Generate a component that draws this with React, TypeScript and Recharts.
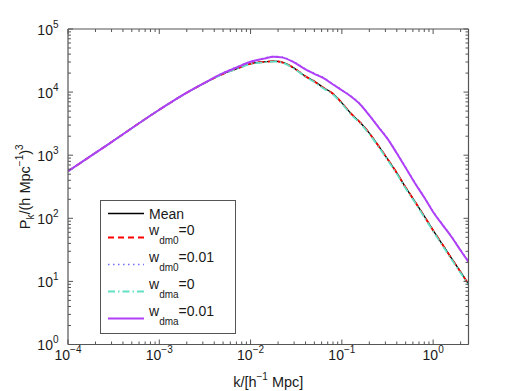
import React from 'react';
import { LineChart, Line, XAxis, YAxis, Legend } from 'recharts';

// k in h/Mpc, P in (Mpc/h)^3
const kValues = [
  0.0001, 0.0003, 0.001, 0.002, 0.003, 0.005, 0.007, 0.01, 0.014, 0.018, 0.022,
  0.03, 0.04, 0.05, 0.063, 0.08, 0.1, 0.126, 0.16, 0.2, 0.25, 0.32, 0.4, 0.5,
  0.63, 0.8, 1.0, 1.26, 1.6, 2.0, 2.44,
];
const meanP = [
  556, 1615, 5250, 9770, 13500, 19500, 23400, 28200, 30200, 30900, 29800,
  24000, 17800, 14800, 11750, 9440, 6760, 4570, 3270, 2240, 1430, 851, 525, 309,
  186, 108, 64.6, 38.9, 22.9, 14.1, 9.1,
];
const wdm0ZeroP = [
  556, 1614, 5245, 9760, 13480, 19450, 23350, 28100, 30100, 30800, 29700,
  23900, 17750, 14750, 11700, 9400, 6740, 4550, 3260, 2230, 1425, 848, 523, 308,
  185, 107.5, 64.3, 38.7, 22.8, 14.0, 9.05,
];
const wdm0OneP = [
  557, 1620, 5265, 9850, 13650, 20150, 24850, 30600, 34400, 36800, 36000,
  29950, 23250, 19800, 16850, 13400, 10850, 8640, 6410, 4340, 2865, 1810, 1088, 641,
  369, 217.5, 128, 80.7, 50.9, 31.4, 20.7,
];
const wdmaZeroP = [
  556, 1612, 5240, 9740, 13440, 19380, 23200, 27900, 29800, 30400, 29300,
  23500, 17400, 14400, 11400, 9150, 6550, 4420, 3160, 2160, 1380, 820, 506, 297,
  179, 104, 62.2, 37.4, 22.0, 13.6, 8.75,
];
const wdmaOneP = [
  556, 1615, 5250, 9800, 13550, 19950, 24550, 30200, 33900, 36300, 35500,
  29500, 22900, 19500, 16600, 13200, 10700, 8510, 6310, 4270, 2820, 1780, 1070, 631,
  363, 214, 126, 79.4, 50.1, 30.9, 20.4,
];

const xMajorTicks = [1e-4, 1e-3, 1e-2, 1e-1, 1];
const xTickLabels = ['\u22124', '\u22123', '\u22122', '\u22121', '0'];
const yMajorTicks = [1, 10, 100, 1000, 10000, 100000];
const yTickLabels = ['0', '1', '2', '3', '4', '5'];

const X_MAX = 2.44;

const withMinors = (majors: number[], max: number) => {
  const out: number[] = [];
  majors.forEach((m) => {
    for (let j = 1; j <= 9; j++) {
      const v = m * j;
      if (v <= max * 1.0001) out.push(v);
    }
  });
  return out;
};
const xTicks = withMinors(xMajorTicks, X_MAX);
const yTicks = withMinors(yMajorTicks.slice(0, -1), 1e5).concat([1e5]);

const data = kValues.map((k, i) => ({
  k,
  mean: meanP[i],
  wdm0Zero: wdm0ZeroP[i],
  wdm0One: wdm0OneP[i],
  wdmaZero: wdmaZeroP[i],
  wdmaOne: wdmaOneP[i],
}));

const series = [
  { key: 'mean', base: 'Mean', sub: '', tail: '', color: '#000000', width: 1.3, dash: undefined },
  { key: 'wdm0Zero', base: 'w', sub: 'dm0', tail: '=0', color: '#ff0000', width: 1.8, dash: '6 4' },
  { key: 'wdm0One', base: 'w', sub: 'dm0', tail: '=0.01', color: '#6f6fff', width: 1.5, dash: '1.5 3.5' },
  { key: 'wdmaZero', base: 'w', sub: 'dma', tail: '=0', color: '#62e0c4', width: 1.8, dash: '7 3 1.5 3' },
  { key: 'wdmaOne', base: 'w', sub: 'dma', tail: '=0.01', color: '#b040f8', width: 2, dash: undefined },
];

const FRAME = '#555555';
const TEXT = '#1a1a1a';
const FONT = '"Liberation Sans", Arial, Helvetica, sans-serif';
const GAP = 8;
const MAJOR_LEN = 5;
const MINOR_LEN = 3;

const majorIndex = (list: number[], v: number) =>
  list.findIndex((t) => Math.abs(t - v) / t < 1e-6);

const BottomTick = (props: any) => {
  const { x, y, payload } = props;
  const i = majorIndex(xMajorTicks, payload.value);
  const axisY = y - GAP;
  return (
    <g>
      <line x1={x} x2={x} y1={axisY} y2={axisY - (i >= 0 ? MAJOR_LEN : MINOR_LEN)} stroke={FRAME} />
      {i >= 0 && (
        <text x={x} y={axisY + 15} textAnchor="middle" fontSize={14} fill={TEXT} fontFamily={FONT}>
          10<tspan dy={-6.5} fontSize={10}>{xTickLabels[i]}</tspan>
        </text>
      )}
    </g>
  );
};

const TopTick = (props: any) => {
  const { x, y, payload } = props;
  const i = majorIndex(xMajorTicks, payload.value);
  const axisY = y + GAP;
  return <line x1={x} x2={x} y1={axisY} y2={axisY + (i >= 0 ? MAJOR_LEN : MINOR_LEN)} stroke={FRAME} />;
};

const LeftTick = (props: any) => {
  const { x, y, payload } = props;
  const i = majorIndex(yMajorTicks, payload.value);
  const axisX = x + GAP;
  return (
    <g>
      <line x1={axisX} x2={axisX + (i >= 0 ? MAJOR_LEN : MINOR_LEN)} y1={y} y2={y} stroke={FRAME} />
      {i >= 0 && (
        <text x={axisX - 9.5} y={y + 5.5} textAnchor="end" fontSize={14} fill={TEXT} fontFamily={FONT}>
          10<tspan dy={-7} fontSize={10}>{yTickLabels[i]}</tspan>
        </text>
      )}
    </g>
  );
};

const RightTick = (props: any) => {
  const { x, y, payload } = props;
  const i = majorIndex(yMajorTicks, payload.value);
  const axisX = x - GAP;
  return <line x1={axisX} x2={axisX - (i >= 0 ? MAJOR_LEN : MINOR_LEN)} y1={y} y2={y} stroke={FRAME} />;
};

const XTitle = (props: any) => {
  const vb = props.viewBox;
  return (
    <text x={vb.x + vb.width / 2} y={vb.y + 42} textAnchor="middle" fontSize={14.5} fill={TEXT} fontFamily={FONT}>
      k/[h<tspan dy={-6.5} fontSize={10}>{'\u22121'}</tspan>
      <tspan dy={6.5}> Mpc]</tspan>
    </text>
  );
};

const YTitle = (props: any) => {
  const vb = props.viewBox;
  const cx = vb.x + 1.5;
  const cy = vb.y + vb.height / 2;
  return (
    <text x={cx} y={cy} transform={`rotate(-90 ${cx} ${cy})`} textAnchor="middle" fontSize={14.5} fill={TEXT} fontFamily={FONT}>
      P<tspan dy={4} fontSize={10}>k</tspan>
      <tspan dy={-4}>/(h Mpc</tspan>
      <tspan dy={-6.5} fontSize={10}>{'\u22121'}</tspan>
      <tspan dy={6.5}>)</tspan>
      <tspan dy={-6.5} fontSize={10}>3</tspan>
    </text>
  );
};

const legendRows = [13.5, 37.5, 64.5, 91.5, 118.5];

const LegendBox = () => (
  <svg width={137} height={135} style={{ display: 'block' }}>
    <rect x={0.5} y={0.5} width={135} height={133} fill="#ffffff" stroke={FRAME} />
    {series.map((s, i) => {
      const ly = legendRows[i];
      return (
        <g key={s.key}>
          <line x1={8} x2={44} y1={ly} y2={ly} stroke={s.color} strokeWidth={s.width} strokeDasharray={s.dash} />
          {s.sub ? (
            <text x={49} y={ly - 3} fontSize={14} fill={TEXT} fontFamily={FONT}>
              {s.base}
              <tspan dy={9} fontSize={10}>{s.sub}</tspan>
              <tspan dy={-9}>{s.tail}</tspan>
            </text>
          ) : (
            <text x={49} y={ly + 5} fontSize={14} fill={TEXT} fontFamily={FONT}>
              {s.base}
            </text>
          )}
        </g>
      );
    })}
  </svg>
);

export default function App() {
  return (
    <div style={{ position: 'absolute', left: 0, top: 0, width: 518, height: 391, background: '#fff' }}>
      <LineChart
        width={518}
        height={391}
        data={data}
        margin={{ top: 19, right: 39.5, bottom: 16.5, left: 28 }}
      >
        <XAxis
          dataKey="k"
          type="number"
          scale="log"
          domain={[1e-4, X_MAX]}
          allowDataOverflow
          ticks={xTicks}
          interval={0}
          tickSize={0}
          tickMargin={GAP}
          tickLine={false}
          tick={BottomTick}
          height={30}
          axisLine={{ stroke: FRAME, strokeWidth: 1.2 }}
          label={XTitle}
        />
        <XAxis
          xAxisId="top"
          orientation="top"
          dataKey="k"
          type="number"
          scale="log"
          domain={[1e-4, X_MAX]}
          allowDataOverflow
          ticks={xTicks}
          interval={0}
          tickSize={0}
          tickMargin={GAP}
          tickLine={false}
          tick={TopTick}
          height={10}
          axisLine={{ stroke: FRAME, strokeWidth: 1.2 }}
        />
        <YAxis
          type="number"
          scale="log"
          domain={[1, 1e5]}
          allowDataOverflow
          ticks={yTicks}
          interval={0}
          tickSize={0}
          tickMargin={GAP}
          tickLine={false}
          tick={LeftTick}
          width={40}
          axisLine={{ stroke: FRAME, strokeWidth: 1.2 }}
          label={YTitle}
        />
        <YAxis
          yAxisId="right"
          orientation="right"
          type="number"
          scale="log"
          domain={[1, 1e5]}
          allowDataOverflow
          ticks={yTicks}
          interval={0}
          tickSize={0}
          tickMargin={GAP}
          tickLine={false}
          tick={RightTick}
          width={10}
          axisLine={{ stroke: FRAME, strokeWidth: 1.2 }}
        />
        {series.map((s) => (
          <Line
            key={s.key}
            dataKey={s.key}
            type="monotone"
            stroke={s.color}
            strokeWidth={s.width}
            strokeDasharray={s.dash}
            dot={false}
            activeDot={false}
            isAnimationActive={false}
          />
        ))}
        <Legend
          layout="vertical"
          align="center"
          verticalAlign="middle"
          content={() => <LegendBox />}
          wrapperStyle={{ left: 99.5, top: 199.5, width: 137, height: 135 }}
        />
      </LineChart>
    </div>
  );
}
